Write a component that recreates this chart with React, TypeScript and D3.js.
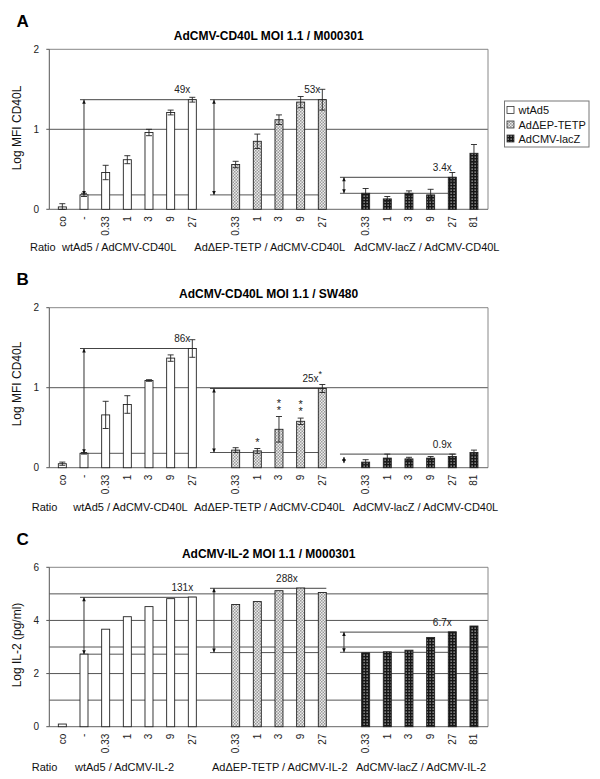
import React from "react";
import * as d3 from "d3";

// ---------- shared categories ----------
const wtLabels = ["co", "-", "0.33", "1", "3", "9", "27"];
const tetpLabels = ["0.33", "1", "3", "9", "27"];
const laczLabels = ["0.33", "1", "3", "9", "27", "81"];
const legendNames = ["wtAd5", "AdΔEP-TETP", "AdCMV-lacZ"];

// ---------- panel A ----------
const aTitle = "AdCMV-CD40L MOI 1.1 / M000301";
const aGroups = ["wtAd5 / AdCMV-CD40L", "AdΔEP-TETP / AdCMV-CD40L", "AdCMV-lacZ / AdCMV-CD40L"];
const aWt = [0.03, 0.18, 0.46, 0.62, 0.96, 1.21, 1.37];
const aWtErr = [0.04, 0.02, 0.09, 0.05, 0.04, 0.03, 0.03];
const aTetp = [0.56, 0.85, 1.12, 1.34, 1.37];
const aTetpErr = [0.04, 0.09, 0.06, 0.07, 0.13];
const aLacz = [0.2, 0.13, 0.2, 0.18, 0.4, 0.7];
const aLaczErr = [0.06, 0.03, 0.03, 0.07, 0.06, 0.11];
const aFolds = ["49x", "53x", "3.4x"];
const aFoldTop = [1.37, 1.37, 0.4];
const aFoldBottom = [0.18, 0.18, 0.2];

// ---------- panel B ----------
const bTitle = "AdCMV-CD40L MOI 1.1 / SW480";
const bGroups = aGroups;
const bWt = [0.05, 0.18, 0.66, 0.79, 1.09, 1.37, 1.49];
const bWtErr = [0.02, 0.01, 0.17, 0.11, 0.01, 0.04, 0.11];
const bTetp = [0.22, 0.21, 0.48, 0.58, 0.99];
const bTetpErr = [0.03, 0.03, 0.16, 0.04, 0.05];
const bTetpStars = [0, 1, 2, 2, 0];
const bLacz = [0.07, 0.12, 0.11, 0.12, 0.14, 0.19];
const bLaczErr = [0.03, 0.05, 0.02, 0.02, 0.03, 0.03];
const bFolds = ["86x", "25x", "0.9x"];
const bFoldSup = ["", "*", ""];
const bFoldTop = [1.49, 0.99, 0.17];
const bFoldBottom = [0.18, 0.19, 0.17];

// ---------- panel C ----------
const cTitle = "AdCMV-IL-2 MOI 1.1 / M000301";
const cGroups = ["wtAd5 / AdCMV-IL-2", "AdΔEP-TETP / AdCMV-IL-2", "AdCMV-lacZ / AdCMV-IL-2"];
const cWt = [0.1, 2.73, 3.67, 4.14, 4.52, 4.82, 4.88];
const cTetp = [4.6, 4.71, 5.12, 5.22, 5.05];
const cLacz = [2.78, 2.82, 2.88, 3.36, 3.57, 3.79];
const cFolds = ["131x", "288x", "6.7x"];
const cFoldTop = [4.87, 5.21, 3.56];
const cFoldBottom = [2.73, 2.79, 2.8];

const FONT = "'Liberation Sans', Arial, Helvetica, sans-serif";
const SLOTS = 20;
const wtSlots = d3.range(0, 7);
const tetpSlots = d3.range(8, 13);
const laczSlots = d3.range(14, 20);
const fills = ["#ffffff", "url(#patTetp)", "url(#patLacz)"];

const x = d3.scaleBand<number>().domain(d3.range(SLOTS)).range([51.5, 484.8]).padding(0);
const step = x.step();
const cx = (i: number) => (x(Math.floor(i)) as number) + step / 2 + (i - Math.floor(i)) * step;
const BW = 8;
const LEFT = 49.3;
const RIGHT = 488;

type Layout = {
  top: number; zero: number; letterY: number; titleY: number; rowY: number;
  ratioX: number; groupX: number[]; yLabelY: number;
};

type PanelData = {
  letter: string; title: string; ylabel: string; yMax: number; tickVals: number[]; gridVals: number[];
  groups: string[]; series: number[][]; errs: (number[] | null)[];
  folds: string[]; foldSup: string[]; foldTop: number[]; foldBottom: number[];
  labelSlots: number[]; stars: number[] | null; tinyArrow: boolean;
};

function Panel({ d, L }: { d: PanelData; L: Layout }) {
  const y = d3.scaleLinear().domain([0, d.yMax]).range([L.zero, L.top]);
  const slotSets = [wtSlots, tetpSlots, laczSlots];
  const labelSets = [wtLabels, tetpLabels, laczLabels];
  const arrowSlots = [1, 7, 13];
  const endSlots = [6, 12, 18];
  return (
    <g>
      <text x={16.5} y={L.letterY} fontSize={17} fontWeight="bold" fontFamily={FONT}>{d.letter}</text>
      <text x={(LEFT + RIGHT) / 2} y={L.titleY} fontSize={12} fontWeight="bold" textAnchor="middle" fontFamily={FONT}>{d.title}</text>
      {/* gridlines */}
      {d.gridVals.map((v) => (
        <line key={"g" + v} x1={LEFT} x2={RIGHT} y1={y(v)} y2={y(v)} stroke="#555" strokeWidth={1} />
      ))}
      {/* frame */}
      <line x1={LEFT} x2={RIGHT} y1={L.top} y2={L.top} stroke="#888" />
      <line x1={RIGHT} x2={RIGHT} y1={L.top} y2={L.zero} stroke="#888" />
      <line x1={LEFT} x2={RIGHT} y1={L.zero} y2={L.zero} stroke="#666" />
      <line x1={LEFT} x2={LEFT} y1={L.top} y2={L.zero} stroke="#555" />
      {/* y ticks */}
      {d.tickVals.map((v) => (
        <g key={"t" + v}>
          <line x1={LEFT - 3} x2={LEFT} y1={y(v)} y2={y(v)} stroke="#555" />
          <text x={39} y={y(v) + 3.5} fontSize={10} textAnchor="end" fontFamily={FONT} fill="#222">{v}</text>
        </g>
      ))}
      <text transform={`translate(20.5,${L.yLabelY}) rotate(-90)`} fontSize={12} textAnchor="middle" fontFamily={FONT} fill="#111">{d.ylabel}</text>
      {/* annotations */}
      {d.folds.map((f, gi) => {
        const xs = cx(arrowSlots[gi]) - 4;
        const xe = cx(endSlots[gi]) + 4;
        const yt = y(d.foldTop[gi]);
        const yb = y(d.foldBottom[gi]);
        const ax = cx(arrowSlots[gi]);
        let a1 = yt, a2 = yb;
        if (d.tinyArrow && gi === 2) { a1 = yt + 3; a2 = yt + 9; }
        return (
          <g key={"f" + gi}>
            <line x1={xs} x2={xe} y1={yt} y2={yt} stroke="#444" />
            {yb !== yt && <line x1={xs} x2={xe} y1={yb} y2={yb} stroke="#555" />}
            <line x1={ax} x2={ax} y1={a1} y2={a2} stroke="#333" />
            <path d={`M${ax},${a1} L${ax - 1.8},${a1 + 4} L${ax + 1.8},${a1 + 4} Z`} fill="#111" />
            <path d={`M${ax},${a2} L${ax - 1.8},${a2 - 4} L${ax + 1.8},${a2 - 4} Z`} fill="#111" />
            <text x={cx(d.labelSlots[gi]) - 10} y={yt - 6.5} fontSize={10} textAnchor="middle" fontFamily={FONT} fill="#222">
              {f}
              {d.foldSup[gi] && <tspan dy={-5} fontSize={9}>{d.foldSup[gi]}</tspan>}
            </text>
          </g>
        );
      })}
      {/* bars */}
      {d.series.map((vals, gi) =>
        vals.map((v, i) => {
          const s = slotSets[gi][i];
          return (
            <rect key={`b${gi}-${i}`} x={cx(s) - BW / 2} y={y(v)} width={BW} height={L.zero - y(v)}
              fill={fills[gi]} stroke="#222" strokeWidth={0.9} />
          );
        })
      )}
      {/* error bars */}
      {d.series.map((vals, gi) => {
        const e = d.errs[gi];
        if (!e) return null;
        return vals.map((v, i) => {
          const s = slotSets[gi][i];
          const c = cx(s);
          const y1 = y(v + e[i]);
          const y2 = y(Math.max(0, v - e[i]));
          return (
            <g key={`e${gi}-${i}`} stroke="#222" strokeWidth={0.9}>
              <line x1={c} x2={c} y1={y1} y2={y2} />
              <line x1={c - 3} x2={c + 3} y1={y1} y2={y1} />
              <line x1={c - 3} x2={c + 3} y1={y2} y2={y2} />
            </g>
          );
        });
      })}
      {/* significance stars */}
      {d.stars && d.stars.map((n, i) => {
        if (!n) return null;
        const v = d.series[1][i];
        const e = d.errs[1] ? (d.errs[1] as number[])[i] : 0;
        const base = y(v + e) - 3;
        const c = cx(tetpSlots[i]);
        return (
          <text key={`s${i}`} x={c} y={base - (n - 1) * 7} fontSize={11} textAnchor="middle" fontFamily={FONT} fill="#222">
            {d3.range(n).map((k) => (
              <tspan key={k} x={c} dy={k === 0 ? 0 : 7}>*</tspan>
            ))}
          </text>
        );
      })}
      {/* x tick labels */}
      {slotSets.map((ss, gi) =>
        ss.map((s, i) => (
          <text key={`xl${gi}-${i}`} transform={`translate(${cx(s) + 3.5},${L.zero + 7}) rotate(-90)`}
            fontSize={10} textAnchor="end" fontFamily={FONT} fill="#222">{labelSets[gi][i]}</text>
        ))
      )}
      {/* group labels */}
      <text x={L.ratioX} y={L.rowY} fontSize={11} fontFamily={FONT} fill="#111">Ratio</text>
      {d.groups.map((g, gi) => (
        <text key={"gl" + gi} x={L.groupX[gi]} y={L.rowY} fontSize={11} fontFamily={FONT} fill="#111">{g}</text>
      ))}
    </g>
  );
}

const panels: PanelData[] = [
  {
    letter: "A", title: aTitle, ylabel: "Log MFI CD40L", yMax: 2, tickVals: [0, 1, 2], gridVals: [1],
    groups: aGroups, series: [aWt, aTetp, aLacz], errs: [aWtErr, aTetpErr, aLaczErr],
    folds: aFolds, foldSup: ["", "", ""], foldTop: aFoldTop, foldBottom: aFoldBottom,
    labelSlots: [6, 12, 18], stars: null, tinyArrow: false,
  },
  {
    letter: "B", title: bTitle, ylabel: "Log MFI CD40L", yMax: 2, tickVals: [0, 1, 2], gridVals: [1],
    groups: bGroups, series: [bWt, bTetp, bLacz], errs: [bWtErr, bTetpErr, bLaczErr],
    folds: bFolds, foldSup: bFoldSup, foldTop: bFoldTop, foldBottom: bFoldBottom,
    labelSlots: [6, 12, 18], stars: bTetpStars, tinyArrow: true,
  },
  {
    letter: "C", title: cTitle, ylabel: "Log IL-2 (pg/ml)", yMax: 6, tickVals: [0, 2, 4, 6], gridVals: [1, 2, 3, 4, 5],
    groups: cGroups, series: [cWt, cTetp, cLacz], errs: [null, null, null],
    folds: cFolds, foldSup: ["", "", ""], foldTop: cFoldTop, foldBottom: cFoldBottom,
    labelSlots: [6, 10.83, 18], stars: null, tinyArrow: false,
  },
];

const layouts: Layout[] = [
  { top: 49.3, zero: 209.3, letterY: 26.7, titleY: 40, rowY: 251, ratioX: 30, groupX: [62, 194.3, 354], yLabelY: 128 },
  { top: 307.7, zero: 467.7, letterY: 285, titleY: 297.5, rowY: 511, ratioX: 31.7, groupX: [73.3, 194, 352.7], yLabelY: 384 },
  { top: 567.3, zero: 726.7, letterY: 545, titleY: 557.5, rowY: 771, ratioX: 31.7, groupX: [75, 212, 356], yLabelY: 645 },
];

export default function App() {
  const legendY = [110, 124.5, 138.5];
  return (
    <svg width={600} height={779} style={{ position: "absolute", left: 0, top: 0, background: "#fff" }}>
      <defs>
        <pattern id="patTetp" width={3} height={3} patternUnits="userSpaceOnUse">
          <rect width={3} height={3} fill="#ececec" />
          <rect width={1.5} height={1.5} fill="#999" />
          <rect x={1.5} y={1.5} width={1.5} height={1.5} fill="#999" />
        </pattern>
        <pattern id="patLacz" width={3} height={3} patternUnits="userSpaceOnUse">
          <rect width={3} height={3} fill="#161616" />
          <rect x={0.5} y={0.5} width={1.3} height={1.3} fill="#b5b5b5" />
        </pattern>
      </defs>
      <rect width={600} height={779} fill="#fff" />
      {panels.map((p, i) => <Panel key={p.letter} d={p} L={layouts[i]} />)}
      {/* legend */}
      <g>
        <rect x={504.5} y={101} width={84.5} height={46} fill="#fff" stroke="#777" />
        {legendNames.map((n, i) => (
          <g key={n}>
            <rect x={507} y={legendY[i] - 3.5} width={7} height={7} fill={fills[i]} stroke="#333" strokeWidth={0.8} />
            <text x={518.5} y={legendY[i] + 4} fontSize={11} fontFamily={FONT} fill="#111">{n}</text>
          </g>
        ))}
      </g>
    </svg>
  );
}
